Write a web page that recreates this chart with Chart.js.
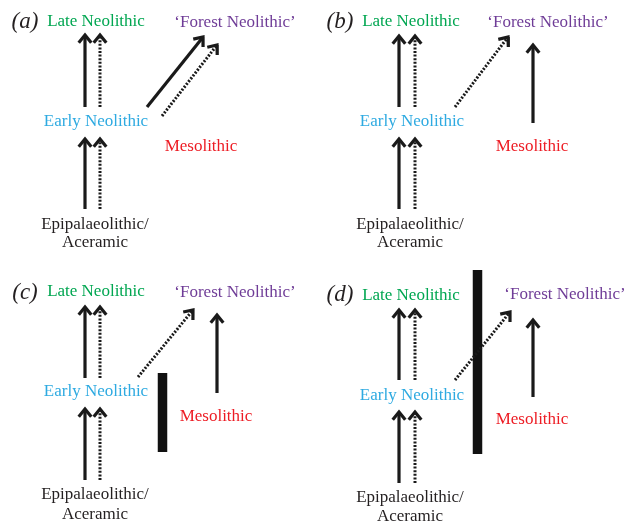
<!DOCTYPE html>
<html>
<head>
<meta charset="utf-8">
<script src="https://cdn.jsdelivr.net/npm/chart.js@4.4.1/dist/chart.umd.min.js"></script>
<style>
  html, body { margin: 0; padding: 0; background: #fff; }
  #wrap { width: 631px; height: 526px; }
</style>
</head>
<body>
<div id="wrap"><canvas id="diagram" width="631" height="526"></canvas></div>
<script>
// NODE NAMES AND PANEL TAGS
const nodeNames = ['Late Neolithic', '\u2018Forest Neolithic\u2019', 'Early Neolithic', 'Mesolithic', 'Epipalaeolithic/', 'Aceramic'];
const panelTags = ['(a)', '(b)', '(c)', '(d)'];
const tagPos = [[25, 22], [340, 22], [25, 293], [340, 295]];

// LABEL CENTRES PER PANEL, SAME ORDER AS nodeNames
const nodePosA = [[96, 22], [235, 23], [96, 122], [201, 147], [95, 225], [95, 243]];
const nodePosB = [[411, 22], [548, 23], [412, 122], [532, 147], [410, 225], [410, 243]];
const nodePosC = [[96, 292], [235, 293], [96, 392], [216, 417], [95, 495], [95, 515]];
const nodePosD = [[411, 296], [565, 295], [412, 396], [532, 420], [410, 498], [410, 517]];

// ARROWS: [x0, y0, x1 (tip), y1 (tip), kind]  s = solid, d = dotted
const arrowsA = [[85, 107, 85, 35, 's'], [100, 107, 100, 35, 'd'], [85, 209, 85, 139, 's'], [100, 209, 100, 139, 'd'], [147, 107, 203, 37, 's'], [162, 116, 217, 45, 'd']];
const arrowsB = [[399, 107, 399, 36, 's'], [415, 107, 415, 36, 'd'], [399, 209, 399, 139, 's'], [415, 209, 415, 139, 'd'], [455, 107, 508, 37, 'd'], [533, 123, 533, 45, 's']];
const arrowsC = [[85, 378, 85, 307, 's'], [100, 378, 100, 307, 'd'], [85, 480, 85, 409, 's'], [100, 480, 100, 409, 'd'], [138, 377, 193, 310, 'd'], [217, 393, 217, 315, 's']];
const arrowsD = [[399, 380, 399, 310, 's'], [415, 380, 415, 310, 'd'], [399, 483, 399, 412, 's'], [415, 483, 415, 412, 'd'], [455, 380, 510, 312, 'd'], [533, 397, 533, 320, 's']];

// BARRIERS: [x, yTop, yBottom]
const barriers = [[162.5, 373, 452], [477.5, 270, 454]];

const nodeColors = ['#00a651', '#6f3c97', '#2eaae1', '#ed1c24', '#231f20', '#231f20'];
const ink = '#1a1a1a';

// BUILD DATASETS FROM THE ARRAYS
function arrowDatasets(list) {
    let sets = [];
    list.forEach((a) => {
        let x0 = a[0], y0 = a[1], x1 = a[2], y1 = a[3];
        let len = Math.hypot(x1 - x0, y1 - y0);
        let ux = (x1 - x0) / len, uy = (y1 - y0) / len;
        let L = 10, ang = 0.68;
        let w1 = { x: x1 - L * (ux * Math.cos(ang) - uy * Math.sin(ang)), y: y1 - L * (ux * Math.sin(ang) + uy * Math.cos(ang)) };
        let w2 = { x: x1 - L * (ux * Math.cos(-ang) - uy * Math.sin(-ang)), y: y1 - L * (ux * Math.sin(-ang) + uy * Math.cos(-ang)) };
        sets.push({
            data: [{ x: x0, y: y0 }, { x: x1 - ux * 1.5, y: y1 - uy * 1.5 }],
            borderColor: ink,
            borderWidth: a[4] == 's' ? 3.2 : 3,
            borderDash: a[4] == 's' ? [] : [2, 1.6],
            borderCapStyle: 'butt'
        });
        sets.push({
            data: [w1, { x: x1, y: y1 }, w2],
            borderColor: ink,
            borderWidth: 3.2,
            borderJoinStyle: 'miter',
            borderCapStyle: 'butt'
        });
    });
    return sets;
}

let datasets = [].concat(arrowDatasets(arrowsA), arrowDatasets(arrowsB), arrowDatasets(arrowsC), arrowDatasets(arrowsD));
barriers.forEach((b) => {
    datasets.push({
        data: [{ x: b[0], y: b[1] }, { x: b[0], y: b[2] }],
        borderColor: '#111',
        borderWidth: 9.5,
        borderCapStyle: 'butt'
    });
});
datasets.forEach((d) => {
    d.showLine = true;
    d.pointRadius = 0;
    d.pointHoverRadius = 0;
    d.fill = false;
    d.tension = 0;
});

// TEXT LABELS DRAWN AT DATA COORDINATES
const labelPlugin = {
    id: 'nodeLabels',
    afterDatasetsDraw(chart) {
        const ctx = chart.ctx;
        const sx = chart.scales.x, sy = chart.scales.y;
        ctx.save();
        ctx.textAlign = 'center';
        ctx.textBaseline = 'middle';
        [nodePosA, nodePosB, nodePosC, nodePosD].forEach((pos) => {
            pos.forEach((p, i) => {
                ctx.font = '17px "Liberation Serif", "Times New Roman", serif';
                ctx.fillStyle = nodeColors[i];
                ctx.fillText(nodeNames[i], sx.getPixelForValue(p[0]), sy.getPixelForValue(p[1]));
            });
        });
        panelTags.forEach((t, i) => {
            ctx.font = 'italic 23px "Liberation Serif", "Times New Roman", serif';
            ctx.fillStyle = '#231f20';
            ctx.fillText(t, sx.getPixelForValue(tagPos[i][0]), sy.getPixelForValue(tagPos[i][1]));
        });
        ctx.restore();
    }
};

new Chart(document.getElementById('diagram'), {
    type: 'scatter',
    data: { datasets: datasets },
    options: {
        responsive: false,
        animation: false,
        layout: { padding: 0 },
        plugins: { legend: { display: false }, tooltip: { enabled: false } },
        scales: {
            x: { type: 'linear', min: 0, max: 631, display: false },
            y: { type: 'linear', min: 0, max: 526, reverse: true, display: false }
        }
    },
    plugins: [labelPlugin]
});
</script>
</body>
</html>
